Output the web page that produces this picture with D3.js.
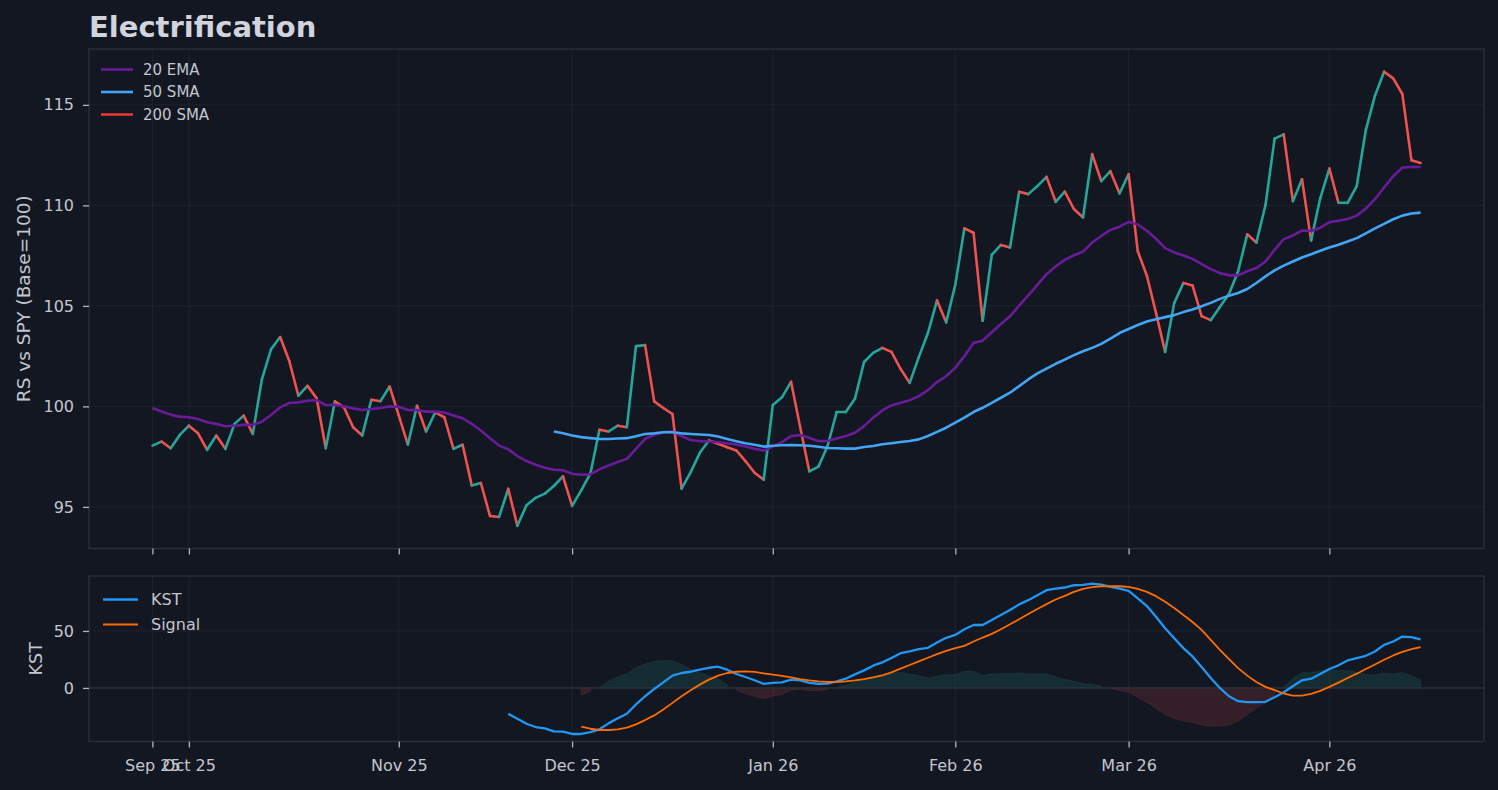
<!DOCTYPE html>
<html lang="en">
<head>
    <meta charset="UTF-8">
    <title>Electrification</title>
    <script src="https://d3js.org/d3.v7.min.js"></script>
    <style>
        html, body { margin: 0; padding: 0; background: #131722; }
        svg { display: block; font-family: "DejaVu Sans", sans-serif; }
    </style>
</head>
<body>
<script type="text/javascript">
    // x is the trading-day index; month ticks sit on the first session of each month
    var tickIndex = [0, 4, 27, 46, 68, 88, 107, 129];
    var tickLabels = ["Sep 25", "Oct 25", "Nov 25", "Dec 25", "Jan 26", "Feb 26", "Mar 26", "Apr 26"];

    var rs = [
        98.05, 98.25, 97.92, 98.58, 99.04, 98.66, 97.84, 98.55, 97.89, 99.13,
        99.54, 98.63, 101.35, 102.84, 103.45, 102.26, 100.53, 101.02, 100.40, 97.92,
        100.25, 99.95, 98.96, 98.55, 100.33, 100.26, 100.99, 99.55, 98.10, 100.03,
        98.75, 99.70, 99.46, 97.89, 98.09, 96.07, 96.19, 94.55, 94.50, 95.90,
        94.06, 95.08, 95.45, 95.66, 96.04, 96.52, 95.05, 95.82, 96.65, 98.84,
        98.75, 99.04, 98.96, 103.00, 103.05, 100.25, 99.92, 99.62, 95.91, 96.73,
        97.69, 98.30, 98.14, 97.97, 97.81, 97.28, 96.70, 96.35, 100.07, 100.45,
        101.22, 98.96, 96.77, 97.00, 98.03, 99.72, 99.72, 100.38, 102.21, 102.66,
        102.91, 102.71, 101.87, 101.17, 102.45, 103.65, 105.27, 104.18, 106.05, 108.86,
        108.64, 104.26, 107.54, 108.03, 107.90, 110.68, 110.56, 110.96, 111.42, 110.18,
        110.68, 109.82, 109.40, 112.55, 111.21, 111.70, 110.60, 111.55, 107.72, 106.50,
        104.65, 102.71, 105.15, 106.14, 106.02, 104.49, 104.29, 104.95, 105.59, 106.72,
        108.56, 108.15, 110.02, 113.32, 113.53, 110.21, 111.30, 108.25, 110.35, 111.83,
        110.13, 110.13, 110.96, 113.76, 115.46, 116.65, 116.32, 115.54, 112.24, 112.11
    ];

    var ema20 = [
        99.92, 99.75, 99.59, 99.49, 99.46, 99.37, 99.21, 99.13, 99.01, 99.04,
        99.08, 99.08, 99.24, 99.57, 99.95, 100.17, 100.20, 100.28, 100.31, 100.07,
        100.07, 100.00, 99.90, 99.82, 99.87, 99.92, 100.00, 99.98, 99.82, 99.82,
        99.74, 99.74, 99.70, 99.55, 99.41, 99.13, 98.80, 98.42, 98.05, 97.86,
        97.53, 97.28, 97.10, 96.95, 96.85, 96.82, 96.65, 96.60, 96.62, 96.87,
        97.06, 97.23, 97.39, 97.89, 98.39, 98.58, 98.71, 98.75, 98.52, 98.33,
        98.27, 98.25, 98.22, 98.17, 98.10, 98.00, 97.89, 97.80, 98.00, 98.22,
        98.52, 98.58, 98.44, 98.27, 98.28, 98.40, 98.53, 98.69, 99.02, 99.44,
        99.80, 100.05, 100.18, 100.30, 100.51, 100.81, 101.21, 101.50, 101.92, 102.50,
        103.16, 103.27, 103.69, 104.10, 104.48, 105.01, 105.52, 106.05, 106.58, 106.96,
        107.29, 107.52, 107.70, 108.15, 108.48, 108.78, 108.94, 109.18, 109.05, 108.74,
        108.34, 107.87, 107.66, 107.51, 107.34, 107.08, 106.83, 106.63, 106.52, 106.52,
        106.72, 106.88, 107.21, 107.79, 108.32, 108.50, 108.75, 108.73, 108.89, 109.16,
        109.24, 109.32, 109.49, 109.85, 110.31, 110.89, 111.45, 111.88, 111.91, 111.91
    ];

    var sma50Start = 44;
    var sma50 = [
        98.75, 98.66, 98.55, 98.47, 98.42, 98.38, 98.38, 98.40, 98.42, 98.51,
        98.63, 98.66, 98.71, 98.71, 98.66, 98.63, 98.60, 98.58, 98.50, 98.38,
        98.27, 98.17, 98.09, 98.00, 98.04, 98.07, 98.08, 98.07, 98.04, 97.99,
        97.93, 97.92, 97.90, 97.90, 97.98, 98.03, 98.12, 98.17, 98.23, 98.28,
        98.36, 98.53, 98.73, 98.94, 99.19, 99.44, 99.72, 99.93, 100.18, 100.43,
        100.68, 101.01, 101.34, 101.64, 101.88, 102.12, 102.33, 102.55, 102.74, 102.91,
        103.11, 103.37, 103.65, 103.85, 104.05, 104.22, 104.34, 104.44, 104.54, 104.69,
        104.82, 104.98, 105.15, 105.35, 105.51, 105.64, 105.84, 106.14, 106.47, 106.77,
        107.00, 107.21, 107.41, 107.57, 107.74, 107.90, 108.04, 108.20, 108.37, 108.61,
        108.86, 109.08, 109.31, 109.49, 109.60, 109.64
    ];

    var kstStart = 39;
    var kst = [
        -22.7, -27.0, -31.4, -34.3, -35.5, -38.1, -38.4, -40.4, -40.4, -38.7,
        -36.3, -31.1, -26.7, -22.7, -14.5, -7.3, -0.9, 4.9, 10.8, 13.1,
        14.2, 16.0, 17.7, 18.6, 16.0, 12.2, 9.6, 6.7, 3.5, 4.4,
        4.9, 7.3, 6.7, 4.4, 3.5, 3.8, 5.8, 8.1, 11.9, 15.4,
        19.5, 22.4, 26.2, 30.5, 32.0, 34.0, 35.2, 39.8, 44.0, 46.5,
        51.5, 55.2, 55.2, 59.6, 64.0, 68.3, 73.3, 77.0, 81.4, 85.8,
        87.2, 88.1, 90.1, 90.4, 91.6, 90.7, 88.7, 87.2, 85.2, 78.5,
        71.8, 62.5, 52.3, 43.6, 34.9, 27.6, 18.3, 8.7, 0.0, -7.3,
        -11.6, -12.5, -12.5, -12.2, -8.1, -3.8, 1.5, 6.7, 8.1, 12.2,
        16.6, 19.8, 24.1, 26.2, 28.2, 32.0, 37.8, 40.7, 45.1, 44.5,
        42.7
    ];

    var signalStart = 47;
    var signal = [
        -34.0, -35.8, -36.9, -36.9, -36.3, -34.9, -32.0, -28.2, -24.1, -18.9,
        -13.1, -7.3, -2.0, 2.9, 7.3, 10.8, 13.1, 14.2, 14.5, 14.0,
        12.8, 11.6, 10.5, 9.3, 7.8, 6.7, 5.8, 5.2, 5.2, 5.8,
        6.7, 7.8, 9.3, 11.0, 13.7, 16.9, 20.1, 23.3, 26.5, 29.7,
        32.5, 35.0, 36.9, 40.7, 44.2, 47.4, 51.5, 55.8, 60.2, 64.8,
        69.2, 73.5, 77.6, 80.8, 84.3, 86.9, 88.4, 89.2, 89.2, 89.2,
        88.7, 86.9, 84.3, 80.5, 75.6, 70.1, 64.0, 57.8, 50.9, 42.2,
        33.4, 25.3, 17.4, 10.8, 5.2, 0.9, -2.0, -4.9, -6.7, -6.7,
        -5.2, -2.6, 0.9, 4.7, 8.7, 12.5, 16.6, 20.6, 24.7, 28.5,
        31.7, 34.0, 35.8
    ];

    var mainTicks = [95, 100, 105, 110, 115];
    var kstTicks = [0, 50];

    var svgWidth = 1498;
    var svgHeight = 790;
    var plotLeft = 89;
    var plotRight = 1484;
    var mainTop = 49;
    var mainBottom = 548.5;
    var kstTop = 576;
    var kstBottom = 741.5;

    var bg = "#131722";
    var spineColor = "#2a2e39";
    var gridColor = "#1f2330";
    var tickColor = "#b2b5be";
    var textColor = "#c3c6cf";
    var upColor = "#26a69a";
    var downColor = "#ef5350";

    var toPoints = function (values, start) {
        return values.map(function (v, i) {
            return {i: i + start, v: v};
        });
    };

    var rsPts = toPoints(rs, 0);
    var emaPts = toPoints(ema20, 0);
    var smaPts = toPoints(sma50, sma50Start);
    var kstPts = toPoints(kst, kstStart);
    var sigPts = toPoints(signal, signalStart);
    // histogram is the gap between the two KST lines
    var histPts = sigPts.map(function (d) {
        return {i: d.i, v: kst[d.i - kstStart] - d.v};
    });

    var padded = function (lo, hi) {
        var m = (hi - lo) * 0.05;
        return [lo - m, hi + m];
    };

    var n = rs.length;
    var xScale = d3.scaleLinear()
        .domain(padded(0, n - 1))
        .range([plotLeft, plotRight]);

    var mainVals = rs.concat(ema20, sma50);
    var yMain = d3.scaleLinear()
        .domain(padded(d3.min(mainVals), d3.max(mainVals)))
        .range([mainBottom, mainTop]);

    var kstVals = kst.concat(signal);
    var yKst = d3.scaleLinear()
        .domain(padded(d3.min(kstVals), d3.max(kstVals)))
        .range([kstBottom, kstTop]);

    var svg = d3.select("body").append("svg")
        .attr("width", svgWidth)
        .attr("height", svgHeight);

    svg.append("rect")
        .attr("width", svgWidth)
        .attr("height", svgHeight)
        .attr("fill", bg);

    var defs = svg.append("defs");
    defs.append("clipPath").attr("id", "clipMain").append("rect")
        .attr("x", plotLeft).attr("y", mainTop)
        .attr("width", plotRight - plotLeft).attr("height", mainBottom - mainTop);
    defs.append("clipPath").attr("id", "clipKst").append("rect")
        .attr("x", plotLeft).attr("y", kstTop)
        .attr("width", plotRight - plotLeft).attr("height", kstBottom - kstTop);

    var styleAxis = function (g, withText) {
        g.select(".domain").remove();
        g.selectAll(".tick line").attr("stroke", tickColor).attr("stroke-width", 1.3);
        g.selectAll(".tick text")
            .attr("fill", textColor)
            .attr("font-size", "16px")
            .attr("font-family", "DejaVu Sans, sans-serif");
        if (!withText) g.selectAll(".tick text").remove();
    };

    var drawGrid = function (yScale, yTicks, top, bottom) {
        var g = svg.append("g");
        g.selectAll("line.vg")
            .data(tickIndex)
            .enter().append("line")
            .attr("x1", function (d) { return xScale(d); })
            .attr("x2", function (d) { return xScale(d); })
            .attr("y1", top).attr("y2", bottom)
            .attr("stroke", gridColor).attr("stroke-width", 1);
        g.selectAll("line.hg")
            .data(yTicks)
            .enter().append("line")
            .attr("x1", plotLeft).attr("x2", plotRight)
            .attr("y1", function (d) { return yScale(d); })
            .attr("y2", function (d) { return yScale(d); })
            .attr("stroke", gridColor).attr("stroke-width", 1);
    };

    var drawPanelFrame = function (top, bottom) {
        svg.append("rect")
            .attr("x", plotLeft).attr("y", top)
            .attr("width", plotRight - plotLeft).attr("height", bottom - top)
            .attr("fill", "none")
            .attr("stroke", spineColor)
            .attr("stroke-width", 1.5);
    };

    // ---------- main panel ----------
    drawGrid(yMain, mainTicks, mainTop, mainBottom);

    var mainG = svg.append("g").attr("clip-path", "url(#clipMain)");

    var lineMain = d3.line()
        .x(function (d) { return xScale(d.i); })
        .y(function (d) { return yMain(d.v); });

    var segments = rsPts.slice(1).map(function (d, k) {
        return [rsPts[k], d];
    });

    mainG.selectAll("path.seg")
        .data(segments)
        .enter().append("path")
        .attr("class", "seg")
        .attr("d", lineMain)
        .attr("fill", "none")
        .attr("stroke-width", 2.6)
        .attr("stroke-linecap", "round")
        .attr("stroke", function (d) {
            return d[1].v >= d[0].v ? upColor : downColor;
        });

    mainG.append("path")
        .datum(emaPts)
        .attr("d", lineMain)
        .attr("fill", "none")
        .attr("stroke", "#6a1b9a")
        .attr("stroke-width", 2.6)
        .attr("stroke-linejoin", "round");

    mainG.append("path")
        .datum(smaPts)
        .attr("d", lineMain)
        .attr("fill", "none")
        .attr("stroke", "#42a5f5")
        .attr("stroke-width", 2.6)
        .attr("stroke-linejoin", "round");

    drawPanelFrame(mainTop, mainBottom);

    styleAxis(svg.append("g")
        .attr("transform", "translate(" + plotLeft + ",0)")
        .call(d3.axisLeft(yMain).tickValues(mainTicks).tickSize(6).tickPadding(9)), true);

    styleAxis(svg.append("g")
        .attr("transform", "translate(0," + mainBottom + ")")
        .call(d3.axisBottom(xScale).tickValues(tickIndex).tickSize(6)), false);

    var mainLegend = [
        {label: "20 EMA", color: "#6a1b9a"},
        {label: "50 SMA", color: "#42a5f5"},
        {label: "200 SMA", color: "#e53935"}
    ];
    var mlg = svg.append("g").selectAll("g")
        .data(mainLegend)
        .enter().append("g")
        .attr("transform", function (d, i) {
            return "translate(101," + (69.5 + i * 22.5) + ")";
        });
    mlg.append("line")
        .attr("x1", 0).attr("x2", 32)
        .attr("stroke", function (d) { return d.color; })
        .attr("stroke-width", 2.6);
    mlg.append("text")
        .attr("x", 42).attr("dy", "0.36em")
        .attr("fill", textColor)
        .attr("font-size", "15px")
        .text(function (d) { return d.label; });

    svg.append("text")
        .attr("x", 89).attr("y", 37)
        .attr("fill", "#d1d4dc")
        .attr("font-size", "29px")
        .attr("font-weight", "bold")
        .text("Electrification");

    svg.append("text")
        .attr("transform", "translate(30," + ((mainTop + mainBottom) / 2) + ") rotate(-90)")
        .attr("text-anchor", "middle")
        .attr("fill", textColor)
        .attr("font-size", "18.5px")
        .text("RS vs SPY (Base=100)");

    // ---------- KST panel ----------
    drawGrid(yKst, kstTicks, kstTop, kstBottom);

    var kstG = svg.append("g").attr("clip-path", "url(#clipKst)");

    var histArea = function (positive) {
        return d3.area()
            .defined(function (d) { return positive ? d.v >= 0 : d.v <= 0; })
            .x(function (d) { return xScale(d.i); })
            .y0(yKst(0))
            .y1(function (d) { return yKst(d.v); });
    };

    kstG.append("path")
        .datum(histPts)
        .attr("d", histArea(true))
        .attr("fill", upColor).attr("fill-opacity", 0.15)
        .attr("stroke", upColor).attr("stroke-opacity", 0.15);

    kstG.append("path")
        .datum(histPts)
        .attr("d", histArea(false))
        .attr("fill", downColor).attr("fill-opacity", 0.15)
        .attr("stroke", downColor).attr("stroke-opacity", 0.15);

    kstG.append("line")
        .attr("x1", plotLeft).attr("x2", plotRight)
        .attr("y1", yKst(0)).attr("y2", yKst(0))
        .attr("stroke", spineColor).attr("stroke-width", 1.6);

    var lineKst = d3.line()
        .x(function (d) { return xScale(d.i); })
        .y(function (d) { return yKst(d.v); });

    kstG.append("path")
        .datum(kstPts)
        .attr("d", lineKst)
        .attr("fill", "none")
        .attr("stroke", "#2196f3")
        .attr("stroke-width", 2.3)
        .attr("stroke-linejoin", "round");

    kstG.append("path")
        .datum(sigPts)
        .attr("d", lineKst)
        .attr("fill", "none")
        .attr("stroke", "#ff6d00")
        .attr("stroke-width", 1.8)
        .attr("stroke-linejoin", "round");

    drawPanelFrame(kstTop, kstBottom);

    styleAxis(svg.append("g")
        .attr("transform", "translate(" + plotLeft + ",0)")
        .call(d3.axisLeft(yKst).tickValues(kstTicks).tickSize(6).tickPadding(9)), true);

    styleAxis(svg.append("g")
        .attr("transform", "translate(0," + kstBottom + ")")
        .call(d3.axisBottom(xScale)
            .tickValues(tickIndex)
            .tickFormat(function (d, i) { return tickLabels[i]; })
            .tickSize(6)
            .tickPadding(12)), true);

    var kstLegend = [
        {label: "KST", color: "#2196f3", w: 2.3},
        {label: "Signal", color: "#ff6d00", w: 1.8}
    ];
    var klg = svg.append("g").selectAll("g")
        .data(kstLegend)
        .enter().append("g")
        .attr("transform", function (d, i) {
            return "translate(103," + (599.5 + i * 25) + ")";
        });
    klg.append("line")
        .attr("x1", 0).attr("x2", 35)
        .attr("stroke", function (d) { return d.color; })
        .attr("stroke-width", function (d) { return d.w; });
    klg.append("text")
        .attr("x", 48).attr("dy", "0.36em")
        .attr("fill", textColor)
        .attr("font-size", "16px")
        .text(function (d) { return d.label; });

    svg.append("text")
        .attr("transform", "translate(42," + ((kstTop + kstBottom) / 2) + ") rotate(-90)")
        .attr("text-anchor", "middle")
        .attr("fill", textColor)
        .attr("font-size", "17.5px")
        .text("KST");
</script>
</body>
</html>
